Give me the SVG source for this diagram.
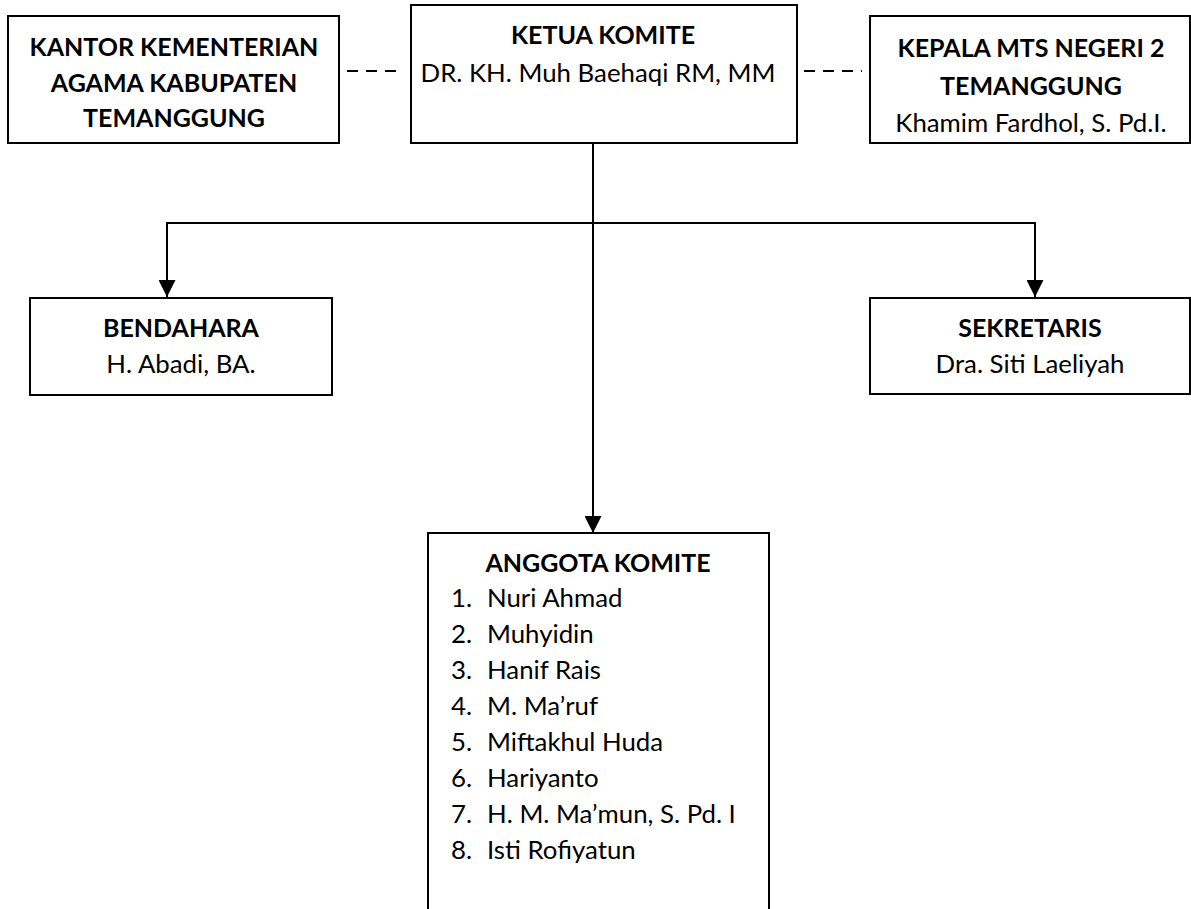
<svg xmlns="http://www.w3.org/2000/svg" width="1191" height="909" viewBox="0 0 1191 909">
<style>
.box{fill:#fff;stroke:#000;stroke-width:2}
.t{font-family:Lato,"Open Sans",sans-serif;font-size:25.8px;fill:#000;text-anchor:middle}
.b{font-weight:bold;font-size:25px}
.l{text-anchor:start}
.con{fill:none;stroke:#000;stroke-width:2}
.dash{fill:none;stroke:#000;stroke-width:1.8;stroke-dasharray:11 8}
</style>
<defs>
<marker id="arr" markerUnits="userSpaceOnUse" markerWidth="17" markerHeight="17" viewBox="0 0 17 17" refX="17" refY="8.5" orient="auto">
<path d="M0,0 L17,8.5 L0,17 Z" fill="#000"/>
</marker>
</defs>
<rect width="1191" height="909" fill="#fff"/>
<g id="connectors">
<path class="dash" d="M347,71 H397"/>
<path class="dash" d="M804,71 H862"/>
<path class="con" d="M593,143 V533" marker-end="url(#arr)"/>
<path class="con" d="M167,297 V223 H1035 V297" />
<path class="con" d="M167,224 V297" marker-end="url(#arr)"/>
<path class="con" d="M1035,224 V297" marker-end="url(#arr)"/>
</g>
<g id="kantor">
<rect class="box" x="8" y="16" width="331" height="127"/>
<text class="t b" x="174" y="56">KANTOR KEMENTERIAN</text>
<text class="t b" x="174" y="92">AGAMA KABUPATEN</text>
<text class="t b" x="174" y="127">TEMANGGUNG</text>
</g>
<g id="ketua">
<rect class="box" x="411" y="5" width="386" height="138"/>
<text class="t b" x="603" y="44">KETUA KOMITE</text>
<text class="t" x="598" y="82">DR. KH. Muh Baehaqi RM, MM</text>
</g>
<g id="kepala">
<rect class="box" x="870" y="16" width="320" height="127"/>
<text class="t b" x="1031" y="57">KEPALA MTS NEGERI 2</text>
<text class="t b" x="1031" y="95">TEMANGGUNG</text>
<text class="t" x="1031" y="132">Khamim Fardhol, S. Pd.I.</text>
</g>
<g id="bendahara">
<rect class="box" x="30" y="298" width="302" height="97"/>
<text class="t b" x="181" y="337">BENDAHARA</text>
<text class="t" x="181" y="373">H. Abadi, BA.</text>
</g>
<g id="sekretaris">
<rect class="box" x="870" y="298" width="320" height="96"/>
<text class="t b" x="1030" y="337">SEKRETARIS</text>
<text class="t" x="1030" y="373">Dra. Siti Laeliyah</text>
</g>
<g id="anggota">
<path class="con" d="M428,920 V533 H769 V920"/>
<text class="t b" x="598" y="572">ANGGOTA KOMITE</text>
<text class="t l" x="451" y="607">1.</text><text class="t l" x="487" y="607">Nuri Ahmad</text>
<text class="t l" x="451" y="643">2.</text><text class="t l" x="487" y="643">Muhyidin</text>
<text class="t l" x="451" y="679">3.</text><text class="t l" x="487" y="679">Hanif Rais</text>
<text class="t l" x="451" y="715">4.</text><text class="t l" x="487" y="715">M. Ma’ruf</text>
<text class="t l" x="451" y="751">5.</text><text class="t l" x="487" y="751">Miftakhul Huda</text>
<text class="t l" x="451" y="787">6.</text><text class="t l" x="487" y="787">Hariyanto</text>
<text class="t l" x="451" y="823">7.</text><text class="t l" x="487" y="823">H. M. Ma’mun, S. Pd. I</text>
<text class="t l" x="451" y="859">8.</text><text class="t l" x="487" y="859">Isti Rofiyatun</text>
</g>
</svg>
